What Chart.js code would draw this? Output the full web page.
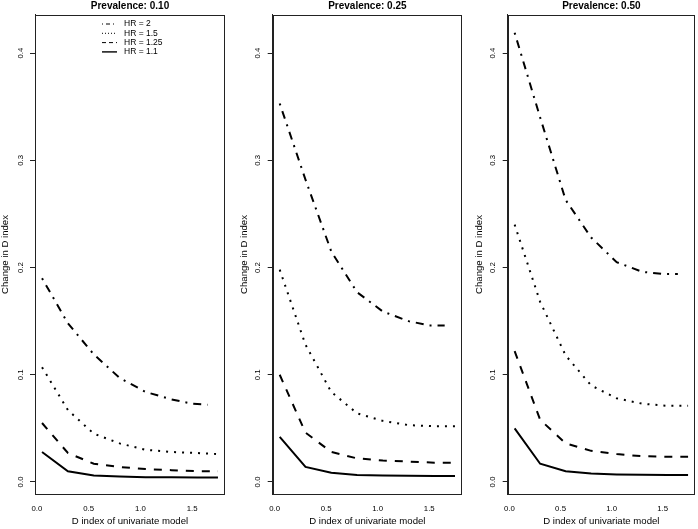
<!DOCTYPE html>
<html>
<head>
<meta charset="utf-8">
<script src="https://cdn.jsdelivr.net/npm/chart.js"></script>
<style>
  body { margin: 0; background: #fff; }
  #wrap { position: relative; width: 698px; height: 529px; }
  .panel { position: absolute; top: 0; height: 529px; }
</style>
</head>
<body>
<div id="wrap">
  <div class="panel" style="left:0px;width:232px"><canvas id="c1" width="232" height="529"></canvas></div>
  <div class="panel" style="left:232px;width:233px"><canvas id="c2" width="233" height="529"></canvas></div>
  <div class="panel" style="left:465px;width:233px"><canvas id="c3" width="233" height="529"></canvas></div>
</div>

<script>
// x positions (D index of univariate model)
var xPoints    = [0.05, 0.3, 0.55, 0.8, 1.05, 1.3, 1.55, 1.75];
var xPointsHR2 = [0.05, 0.3, 0.55, 0.8, 1.05, 1.3, 1.5, 1.65];

var hrLabels = ['HR = 2', 'HR = 1.5', 'HR = 1.25', 'HR = 1.1'];
var panelTitles = ['Prevalence: 0.10', 'Prevalence: 0.25', 'Prevalence: 0.50'];
var yTicks = [0, 0.1, 0.2, 0.3, 0.4];
var xTicks = [0, 0.5, 1, 1.5];

// prevalence 0.10
var prev10HR2   = [0.190, 0.148, 0.119, 0.097, 0.084, 0.077, 0.073, 0.072];
var prev10HR15  = [0.107, 0.067, 0.045, 0.036, 0.030, 0.028, 0.027, 0.026];
var prev10HR125 = [0.055, 0.027, 0.017, 0.014, 0.012, 0.011, 0.010, 0.010];
var prev10HR11  = [0.028, 0.010, 0.006, 0.005, 0.0045, 0.0043, 0.0042, 0.0042];

// prevalence 0.25
var prev25HR2   = [0.353, 0.282, 0.215, 0.177, 0.159, 0.150, 0.146, 0.146];
var prev25HR15  = [0.198, 0.128, 0.084, 0.064, 0.057, 0.053, 0.052, 0.052];
var prev25HR125 = [0.100, 0.046, 0.028, 0.022, 0.020, 0.019, 0.018, 0.018];
var prev25HR11  = [0.042, 0.014, 0.0085, 0.0065, 0.006, 0.0057, 0.0056, 0.0056];

// prevalence 0.50
var prev50HR2   = [0.419, 0.340, 0.263, 0.228, 0.205, 0.196, 0.194, 0.194];
var prev50HR15  = [0.240, 0.168, 0.118, 0.090, 0.078, 0.073, 0.071, 0.071];
var prev50HR125 = [0.122, 0.058, 0.036, 0.029, 0.026, 0.024, 0.0235, 0.0235];
var prev50HR11  = [0.050, 0.017, 0.010, 0.0078, 0.007, 0.0067, 0.0066, 0.0065];

var dashes = [[2, 6, 8, 6], [2, 6], [8, 8], []];
var legendDashes = [[1, 3, 4, 3], [1, 2], [4, 3], []];

Chart.defaults.font.family = "'Liberation Sans', Arial, Helvetica, sans-serif";
Chart.defaults.color = '#000';

function pts(xs, ys) {
  return xs.map(function(x, i) { return {x: x, y: ys[i]}; });
}

var boxPlugin = {
  id: 'box',
  afterDatasetsDraw: function(chart) {
    var ca = chart.chartArea, ctx = chart.ctx;
    ctx.save();
    ctx.strokeStyle = '#222';
    ctx.lineWidth = 1;
    ctx.setLineDash([]);
    ctx.strokeRect(Math.round(ca.left) + 0.5, Math.round(ca.top) + 0.5,
                   Math.round(ca.width) - 1, Math.round(ca.height) - 1);
    ctx.restore();
  }
};

var legendPlugin = {
  id: 'rlegend',
  afterDraw: function(chart) {
    if (!chart.options.plugins.rlegend || !chart.options.plugins.rlegend.show) return;
    var ctx = chart.ctx, ca = chart.chartArea;
    var x0 = ca.left + 67, x1 = ca.left + 82, tx = ca.left + 89;
    ctx.save();
    ctx.font = "8.5px 'Liberation Sans', Arial, sans-serif";
    ctx.fillStyle = '#000';
    ctx.textBaseline = 'middle';
    chart.data.datasets.forEach(function(ds, i) {
      var y = 24 + i * 9.3;
      ctx.strokeStyle = '#000';
      ctx.lineWidth = i === 3 ? 1.4 : 1;
      ctx.setLineDash(legendDashes[i]);
      ctx.beginPath();
      ctx.moveTo(x0, y);
      ctx.lineTo(x1, y);
      ctx.stroke();
      ctx.setLineDash([]);
      ctx.fillText(ds.label, tx, y);
    });
    ctx.restore();
  }
};

function makePanel(id, title, series, leftW, padRight, yTitlePad, showLegend) {
  var xsList = [xPointsHR2, xPoints, xPoints, xPoints];
  var datasets = series.map(function(s, i) {
    return {
      label: hrLabels[i],
      data: pts(xsList[i], s),
      borderColor: '#000',
      borderWidth: 2,
      borderDash: dashes[i],
      pointRadius: 0,
      fill: false,
      tension: 0
    };
  });

  new Chart(document.getElementById(id), {
    type: 'line',
    data: {datasets: datasets},
    options: {
      responsive: false,
      animation: false,
      layout: {padding: {top: 0, right: padRight, bottom: 0, left: 0}},
      scales: {
        x: {
          type: 'linear',
          min: -0.018,
          max: 1.818,
          afterFit: function(s) { s.height = 34.5; },
          afterBuildTicks: function(s) { s.ticks = xTicks.map(function(v) { return {value: v}; }); },
          grid: {display: false, drawTicks: false},
          border: {display: false},
          ticks: {
            font: {size: 7.8},
            padding: 10,
            maxRotation: 0,
            autoSkip: false,
            callback: function(v) { return v.toFixed(1); }
          },
          title: {
            display: true,
            text: 'D index of univariate model',
            font: {size: 9.6},
            padding: {top: 0, bottom: 1.5}
          }
        },
        y: {
          type: 'linear',
          min: -0.0117,
          max: 0.436,
          afterFit: function(s) { s.width = leftW; },
          afterBuildTicks: function(s) { s.ticks = yTicks.map(function(v) { return {value: v}; }); },
          grid: {display: true, drawOnChartArea: false, drawTicks: true, tickLength: 5, color: '#222'},
          border: {display: true, color: '#222'},
          ticks: {
            font: {size: 7.8},
            minRotation: 90,
            maxRotation: 90,
            crossAlign: 'center',
            padding: 4,
            autoSkip: false,
            callback: function(v) { return v.toFixed(1); }
          },
          title: {
            display: true,
            text: 'Change in D index',
            font: {size: 9.6, lineHeight: 1},
            padding: {top: yTitlePad, bottom: 0}
          }
        }
      },
      plugins: {
        legend: {display: false},
        tooltip: {enabled: false},
        title: {
          display: true,
          text: title,
          fullSize: false,
          font: {size: 10, weight: 'bold'},
          padding: {top: 0, bottom: 2.5}
        },
        rlegend: {show: showLegend}
      }
    },
    plugins: [boxPlugin, legendPlugin]
  });
}

makePanel('c1', panelTitles[0], [prev10HR2, prev10HR15, prev10HR125, prev10HR11], 35, 7, 0.2, true);
makePanel('c2', panelTitles[1], [prev25HR2, prev25HR15, prev25HR125, prev25HR11], 40.7, 3, 7.2, false);
makePanel('c3', panelTitles[2], [prev50HR2, prev50HR15, prev50HR125, prev50HR11], 42.7, 3, 9.2, false);
</script>
</body>
</html>
